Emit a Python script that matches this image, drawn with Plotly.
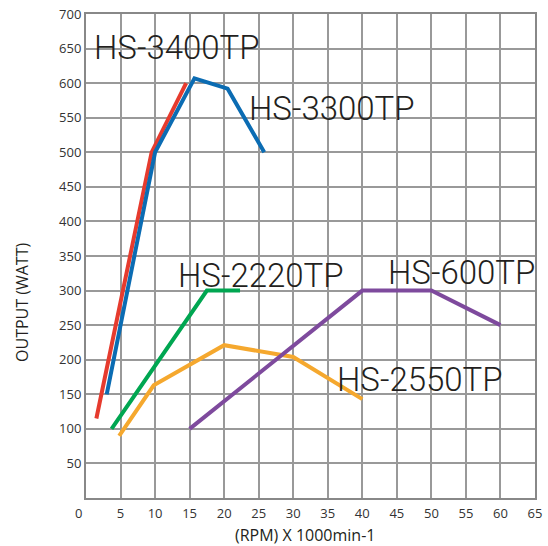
import plotly.graph_objects as go

# Output curves: speed (x 1000 min-1) vs output (W)
hs3400_rpm = [1.5, 9.5, 14.5]
hs3400_w = [115, 500, 600]

hs3300_rpm = [3, 10, 15.7, 20.5, 25.8]
hs3300_w = [150, 500, 607, 592, 500]

hs2220_rpm = [3.7, 17.5, 22.3]
hs2220_w = [100, 300, 300]

hs2550_rpm = [4.8, 9.8, 20, 30, 40]
hs2550_w = [90, 163, 221, 204, 143]

hs600_rpm = [15, 40, 50, 60]
hs600_w = [100, 300, 300, 250]

x_ticks = list(range(5, 70, 5))
y_ticks = list(range(50, 750, 50))

series = [
    ("HS-3400TP", hs3400_rpm, hs3400_w, "#e63b2e"),
    ("HS-3300TP", hs3300_rpm, hs3300_w, "#0b6cb3"),
    ("HS-2220TP", hs2220_rpm, hs2220_w, "#00a651"),
    ("HS-2550TP", hs2550_rpm, hs2550_w, "#f5a82e"),
    ("HS-600TP", hs600_rpm, hs600_w, "#7e4a9d"),
]

fig = go.Figure()
for name, xs, ys, color in series:
    fig.add_trace(go.Scatter(x=xs, y=ys, mode="lines", name=name,
                             line=dict(color=color, width=4)))

# Model names placed beside their curves
labels = [
    ("HS-3400TP", 0.8, 652),
    ("HS-3300TP", 23.3, 564),
    ("HS-2220TP", 13.1, 322),
    ("HS-600TP", 43.5, 326),
    ("HS-2550TP", 36.0, 171),
]
for text, lx, ly in labels:
    fig.add_annotation(x=lx, y=ly, text=text, showarrow=False,
                       xanchor="left", yanchor="middle",
                       font=dict(family="Roboto, Liberation Sans", size=33,
                                 weight=300, color="#231f20"))

fig.add_annotation(x=0, y=0, text="0", showarrow=False, xshift=-8, yshift=-15,
                   font=dict(family="Open Sans", size=13, color="#333333"))

# Axis titles
fig.add_annotation(xref="paper", yref="paper", x=-0.1425, y=0.403,
                   xanchor="center", yanchor="middle",
                   text="OUTPUT (WATT)", textangle=-90, showarrow=False,
                   font=dict(family="Open Sans", size=16, color="#231f20"))
fig.add_annotation(xref="paper", yref="paper", x=0.488, y=-0.076,
                   xanchor="center", yanchor="middle",
                   text="(RPM) X 1000min-1", showarrow=False,
                   font=dict(family="Open Sans", size=16, color="#231f20"))

fig.update_layout(
    width=548, height=546,
    margin=dict(l=86, r=13, t=14, b=48),
    paper_bgcolor="white", plot_bgcolor="white",
    showlegend=False,
    font=dict(family="Open Sans", size=13, color="#333333"),
)
fig.update_xaxes(range=[0, 65], tickvals=x_ticks, ticks="", showgrid=True,
                 gridcolor="#999999", gridwidth=1.5, showline=True,
                 linecolor="#888888", linewidth=2, mirror=True, zeroline=False,
                 automargin=False, ticklabelstandoff=2)
fig.update_yaxes(range=[0, 700], tickvals=y_ticks, ticks="", showgrid=True,
                 gridcolor="#999999", gridwidth=1.5, showline=True,
                 linecolor="#888888", linewidth=2, mirror=True, zeroline=False,
                 automargin=False)

fig.write_html("out.html")
